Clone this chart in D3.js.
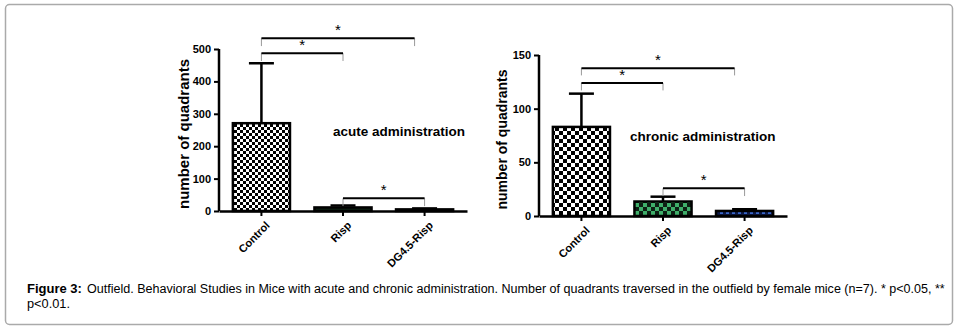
<!DOCTYPE html>
<html>
<head>
<meta charset="utf-8">
<script src="https://cdn.jsdelivr.net/npm/d3@7"></script>
<style>
  body { margin: 0; background: #fff; }
  text { font-family: "Liberation Sans", Arial, sans-serif; }
</style>
</head>
<body>
<script>
// groups on the x axis
const groups = ["Control", "Risp", "DG4.5-Risp"];

// acute administration: means and upper error (mean + sd)
const acuteMeans = [271, 11, 5];
const acuteErrTop = [456, 17, 8];
const acuteTicks = [0, 100, 200, 300, 400, 500];

// chronic administration
const chronicMeans = [83, 13.5, 4.7];
const chronicErrTop = [114, 18, 6.3];
const chronicTicks = [0, 50, 100, 150];

// significance brackets: [from, to, bracket level, drop level]
const acuteSig = [["Control", "Risp", 487, 463], ["Control", "DG4.5-Risp", 533, 509], ["Risp", "DG4.5-Risp", 39, 15]];
const chronicSig = [["Control", "Risp", 124, 117], ["Control", "DG4.5-Risp", 137.6, 131], ["Risp", "DG4.5-Risp", 25.8, 18.6]];

const W = 960, H = 332;
const svg = d3.select("body").append("svg")
    .attr("width", W)
    .attr("height", H);

// frame
svg.append("rect")
    .attr("x", 5.5).attr("y", 4.5)
    .attr("width", 947).attr("height", 320)
    .attr("rx", 4)
    .attr("fill", "none")
    .attr("stroke", "#aaa")
    .attr("stroke-width", 1.5);

// fill patterns
const defs = svg.append("defs");
function checker(id, size, c1, c2) {
    const p = defs.append("pattern").attr("id", id)
        .attr("patternUnits", "userSpaceOnUse")
        .attr("width", size * 2).attr("height", size * 2);
    p.append("rect").attr("width", size * 2).attr("height", size * 2).attr("fill", c1);
    p.append("rect").attr("width", size).attr("height", size).attr("fill", c2);
    p.append("rect").attr("x", size).attr("y", size).attr("width", size).attr("height", size).attr("fill", c2);
}
function dashes(id, bg, fg) {
    const p = defs.append("pattern").attr("id", id)
        .attr("patternUnits", "userSpaceOnUse")
        .attr("width", 6).attr("height", 4);
    p.append("rect").attr("width", 6).attr("height", 4).attr("fill", bg);
    p.append("rect").attr("x", 1).attr("y", 1).attr("width", 3).attr("height", 2).attr("fill", fg);
}
checker("chk3", 3, "#fff", "#000");
checker("chk4", 4, "#fff", "#000");
checker("grn4", 4, "#3fae6a", "#0d1f14");
dashes("dgreen", "#0e2214", "#2f8f4f");
dashes("dblue", "#0c1a4a", "#3a66c8");
dashes("dblack", "#111", "#333");

function panel(opt) {
    const g = svg.append("g")
        .attr("transform", `translate(${opt.left},${opt.top})`);

    const x = d3.scaleBand().domain(groups)
        .range([0, opt.width])
        .paddingInner(0.3).paddingOuter(0.17);
    const y = d3.scaleLinear().domain([0, opt.max]).range([opt.height, 0]);

    // bars
    g.selectAll("rect.bar")
        .data(groups)
        .enter().append("rect")
        .attr("class", "bar")
        .attr("x", d => x(d))
        .attr("y", (d, i) => y(opt.means[i]))
        .attr("width", x.bandwidth())
        .attr("height", (d, i) => opt.height - y(opt.means[i]))
        .attr("fill", (d, i) => `url(#${opt.fills[i]})`)
        .attr("stroke", "#000")
        .attr("stroke-width", 2.5);

    // error bars (upper only)
    groups.forEach((d, i) => {
        const cx = x(d) + x.bandwidth() / 2;
        g.append("line")
            .attr("x1", cx).attr("x2", cx)
            .attr("y1", y(opt.means[i])).attr("y2", y(opt.errTop[i]))
            .attr("stroke", "#000").attr("stroke-width", 2.5);
        g.append("line")
            .attr("x1", cx - 12.5).attr("x2", cx + 12.5)
            .attr("y1", y(opt.errTop[i])).attr("y2", y(opt.errTop[i]))
            .attr("stroke", "#000").attr("stroke-width", 2.5);
    });

    // axes
    const yAxis = g.append("g")
        .call(d3.axisLeft(y).tickValues(opt.ticks).tickSize(5).tickPadding(3));
    yAxis.select(".domain").attr("stroke-width", 2.5).attr("d", `M0,${opt.height}V0`);
    yAxis.selectAll(".tick line").attr("stroke-width", 2);
    yAxis.selectAll("text")
        .attr("font-size", 11).attr("font-weight", "bold")
        .attr("font-family", "Liberation Sans, Arial, sans-serif");

    const xAxis = g.append("g")
        .attr("transform", `translate(0,${opt.height})`)
        .call(d3.axisBottom(x).tickSize(5).tickSizeOuter(0).tickPadding(6));
    xAxis.select(".domain").attr("stroke-width", 2.5);
    xAxis.selectAll(".tick line").attr("stroke-width", 2);
    xAxis.selectAll("text")
        .attr("font-size", 11).attr("font-weight", "bold")
        .attr("font-family", "Liberation Sans, Arial, sans-serif")
        .attr("text-anchor", "end")
        .attr("dy", "0.3em")
        .attr("transform", "translate(-1,5) rotate(-45)");

    // y title
    g.append("text")
        .attr("transform", "rotate(-90)")
        .attr("x", -opt.height / 2 - 4)
        .attr("y", opt.titleX)
        .attr("text-anchor", "middle")
        .attr("font-size", opt.titleSize)
        .attr("font-weight", "bold")
        .text("number of quadrants");

    // panel label
    g.append("text")
        .attr("x", opt.labelX).attr("y", opt.labelY)
        .attr("font-size", 13.5).attr("font-weight", "bold")
        .text(opt.label);

    // significance brackets
    opt.sig.forEach(s => {
        const x1 = x(s[0]) + x.bandwidth() / 2;
        const x2 = x(s[1]) + x.bandwidth() / 2 - (s[0] === "Control" && s[1] === "DG4.5-Risp" ? 10 : 0);
        const yl = y(s[2]), yd = y(s[3]);
        g.append("path")
            .attr("d", `M${x1},${yd}V${yl}M${x2},${yl}V${yd}`)
            .attr("fill", "none").attr("stroke", "#999").attr("stroke-width", 1);
        g.append("line")
            .attr("x1", x1).attr("x2", x2).attr("y1", yl).attr("y2", yl)
            .attr("stroke", "#000").attr("stroke-width", 2);
        g.append("text")
            .attr("x", (x1 + x2) / 2).attr("y", yl - 3)
            .attr("text-anchor", "middle")
            .attr("font-size", 15)
            .text("*");
    });
}

panel({
    left: 219, top: 49, width: 248, height: 162, max: 500,
    means: acuteMeans, errTop: acuteErrTop, ticks: acuteTicks,
    fills: ["chk3", "dgreen", "dblack"], sig: acuteSig,
    titleX: -30, titleSize: 15,
    label: "acute administration", labelX: 114, labelY: 87
});

panel({
    left: 539, top: 55, width: 248, height: 161, max: 150,
    means: chronicMeans, errTop: chronicErrTop, ticks: chronicTicks,
    fills: ["chk4", "grn4", "dblue"], sig: chronicSig,
    titleX: -32, titleSize: 14,
    label: "chronic administration", labelX: 91, labelY: 86
});

// caption, squeezed horizontally to mimic the narrow typeface
function caption(str, x0, y0, w, bold) {
    const t = svg.append("text")
        .attr("font-size", 13.5)
        .attr("font-weight", bold ? "bold" : null)
        .text(str);
    const sx = w / t.node().getComputedTextLength();
    t.attr("transform", `translate(${x0},${y0}) scale(${sx},1)`);
}
caption("Figure 3:", 27, 293, 55, true);
caption("Outfield. Behavioral Studies in Mice with acute and chronic administration. Number of quadrants traversed in the outfield by female mice (n=7). * p<0.05, **", 87, 293, 859, false);
caption("p<0.01.", 27, 308, 43, false);
</script>
</body>
</html>
